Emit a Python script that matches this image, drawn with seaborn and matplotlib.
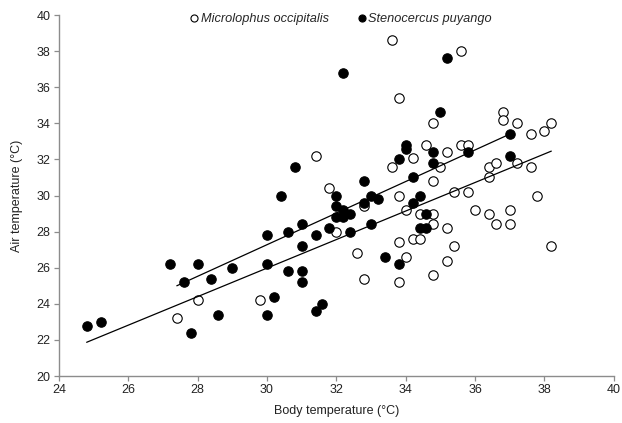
import matplotlib
matplotlib.use("Agg")
import matplotlib.pyplot as plt
import seaborn as sns
import pandas as pd
import numpy as np

# Microlophus occipitalis (open circles)
micro_tb = [27.4, 28.0, 29.8, 31.4, 31.8, 32.0, 32.6, 32.8, 32.8, 33.6, 35.6, 33.8,
            34.8, 33.6, 34.2, 34.6, 35.2, 35.6, 35.8, 35.0, 36.4, 36.6, 36.8, 36.8,
            37.2, 37.6, 38.0, 38.2, 37.2, 37.6, 36.4, 37.8, 36.4, 37.0, 36.6, 37.0,
            38.2, 34.8, 33.8, 35.4, 35.8, 36.0, 34.0, 34.4, 34.8, 34.8, 35.2, 34.2,
            34.4, 33.8, 35.4, 34.0, 35.2, 34.8, 33.8]
micro_ta = [23.2, 24.2, 24.2, 32.2, 30.4, 28.0, 26.8, 29.4, 25.4, 38.6, 38.0, 35.4,
            34.0, 31.6, 32.1, 32.8, 32.4, 32.8, 32.8, 31.6, 31.6, 31.8, 34.6, 34.2,
            34.0, 33.4, 33.6, 34.0, 31.8, 31.6, 31.0, 30.0, 29.0, 29.2, 28.4, 28.4,
            27.2, 30.8, 30.0, 30.2, 30.2, 29.2, 29.2, 29.0, 29.0, 28.4, 28.2, 27.6,
            27.6, 27.4, 27.2, 26.6, 26.4, 25.6, 25.2]

# Stenocercus puyango (filled circles)
steno_tb = [24.8, 25.2, 27.2, 27.6, 27.8, 28.0, 28.4, 28.6, 29.0, 30.0, 30.0, 30.0,
            30.2, 30.4, 30.6, 30.6, 30.8, 31.0, 31.0, 31.0, 31.0, 31.4, 31.4, 31.6,
            31.8, 32.0, 32.0, 32.0, 32.2, 32.2, 32.2, 32.4, 32.4, 32.8, 32.8, 33.0,
            33.0, 33.2, 33.4, 33.8, 33.8, 34.0, 34.0, 34.2, 34.2, 34.4, 34.4, 34.6,
            34.6, 34.8, 34.8, 35.0, 35.2, 35.8, 37.0, 37.0]
steno_ta = [22.8, 23.0, 26.2, 25.2, 22.4, 26.2, 25.4, 23.4, 26.0, 27.8, 26.2, 23.4,
            24.4, 30.0, 28.0, 25.8, 31.6, 28.4, 27.2, 25.8, 25.2, 27.8, 23.6, 24.0,
            28.2, 30.0, 29.4, 28.8, 36.8, 29.2, 28.8, 29.0, 28.0, 30.8, 29.6, 30.0,
            28.4, 29.8, 26.6, 32.0, 26.2, 32.8, 32.6, 31.0, 29.6, 30.0, 28.2, 29.0,
            28.2, 32.4, 31.8, 34.6, 37.6, 32.4, 33.4, 32.2]

# Trend lines (endpoints)
trend_all_x = [24.8, 38.2]
trend_all_y = [21.87, 32.46]
trend_b_x = [27.4, 37.0]
trend_b_y = [25.0, 33.4]

x_ticks = [24, 26, 28, 30, 32, 34, 36, 38, 40]
y_ticks = [20, 22, 24, 26, 28, 30, 32, 34, 36, 38, 40]

sns.set_theme(style="white")
plt.rcParams['font.family'] = ['Liberation Sans', 'DejaVu Sans']

fig = plt.figure(figsize=(6.22, 4.23), dpi=100)
ax = fig.add_axes([0.0947, 0.111, 0.892, 0.8535])

df_m = pd.DataFrame({"tb": micro_tb, "ta": micro_ta})
df_s = pd.DataFrame({"tb": steno_tb, "ta": steno_ta})

sns.scatterplot(data=df_m, x="tb", y="ta", ax=ax, color="white", edgecolor="black",
                linewidth=0.8, s=46, label="Microlophus occipitalis", zorder=3)
sns.scatterplot(data=df_s, x="tb", y="ta", ax=ax, color="black", edgecolor="black",
                linewidth=0.8, s=46, label="Stenocercus puyango", zorder=3)

sns.lineplot(x=trend_all_x, y=trend_all_y, ax=ax, color="black", linewidth=0.9, zorder=4)
sns.lineplot(x=trend_b_x, y=trend_b_y, ax=ax, color="black", linewidth=0.9, zorder=4)

ax.set_xlim(24, 40)
ax.set_ylim(20, 40)
ax.set_xticks(x_ticks)
ax.set_yticks(y_ticks)
ax.set_xticklabels([str(t) for t in x_ticks])
ax.set_yticklabels([str(t) for t in y_ticks])
ax.set_xlabel("Body temperature (°C)", fontsize=9, color="#222222", labelpad=6)
ax.set_ylabel("Air temperature (°C)", fontsize=9, color="#222222", labelpad=10)

for side in ["top", "right"]:
    ax.spines[side].set_visible(False)
for side in ["left", "bottom"]:
    ax.spines[side].set_color("#8c8c8c")
    ax.spines[side].set_linewidth(1.0)
ax.tick_params(axis="both", which="major", direction="out", length=3.5, width=0.9,
               color="#8c8c8c", labelsize=9, labelcolor="#222222", pad=2.5,
               left=True, bottom=True)
ax.grid(False)

leg = ax.legend(loc="center", bbox_to_anchor=(0.509, 0.99), ncol=2, frameon=False,
                prop={"style": "italic", "size": 9.2, "family": ["Liberation Sans"]},
                handletextpad=0.2, columnspacing=2.29, markerscale=0.75,
                borderaxespad=0.0, handlelength=0.6)

fig.savefig("out.png", dpi=100)
